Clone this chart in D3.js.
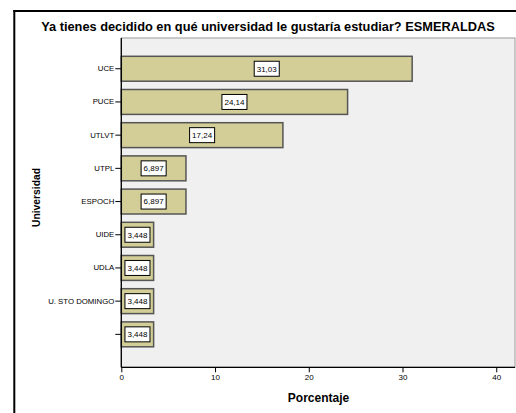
<!DOCTYPE html>
<html><head><meta charset="utf-8">
<script src="https://cdn.jsdelivr.net/npm/d3@7"></script>
<style>body{margin:0;background:#fff;}svg{display:block;font-family:"Liberation Sans",Arial,sans-serif;}</style>
</head><body>
<svg id="c" width="516" height="413"></svg>
<script>
const categories = ["UCE","PUCE","UTLVT","UTPL","ESPOCH","UIDE","UDLA","U. STO DOMINGO",""];
const values = [31.03,24.14,17.24,6.897,6.897,3.448,3.448,3.448,3.448];
const valueLabels = ["31,03","24,14","17,24","6,897","6,897","3,448","3,448","3,448","3,448"];
const xTicks = [0,10,20,30,40];
const title = "Ya tienes decidido en qué universidad le gustaría estudiar? ESMERALDAS";
const xTitle = "Porcentaje";
const yTitle = "Universidad";

const svg = d3.select("#c");
const P = {l:121.3, r:515, t:38, b:367.3};

// outer frame
svg.append("line").attr("x1",14.3).attr("x2",14.3).attr("y1",10).attr("y2",413).attr("stroke","#000").attr("stroke-width",2);
svg.append("line").attr("x1",13.3).attr("x2",516).attr("y1",11).attr("y2",11).attr("stroke","#000").attr("stroke-width",2);

// plot background
svg.append("rect").attr("x",P.l).attr("y",P.t).attr("width",P.r-P.l).attr("height",P.b-P.t)
  .attr("fill","#f0f0f0").attr("stroke","#9a9a9a").attr("stroke-width",1);

const x = d3.scaleLinear().domain([0,42]).range([P.l,P.r]);
const y = d3.scaleBand().domain(categories.map((d,i)=>i)).range([52.15,350.95]).paddingInner(0.25).paddingOuter(0.125);

const g = svg.append("g");
g.selectAll("rect.bar").data(values).join("rect").attr("class","bar")
  .attr("x",x(0)).attr("y",(d,i)=>y(i)).attr("width",d=>x(d)-x(0)).attr("height",y.bandwidth())
  .attr("fill","#d3ce97").attr("stroke","#555").attr("stroke-width",1.5);

// value labels
const lbl = g.selectAll("g.lbl").data(values).join("g").attr("class","lbl")
  .attr("transform",(d,i)=>`translate(${(x(0)+x(d))/2},${y(i)+y.bandwidth()/2})`);
lbl.each(function(d,i){
  const s = d3.select(this);
  const t = s.append("text").attr("text-anchor","middle").attr("dy","0.35em")
    .attr("font-size",8).attr("fill","#000").text(valueLabels[i]);
  const w = t.node().getComputedTextLength()+5;
  s.insert("rect","text").attr("x",-w/2).attr("y",-7.5).attr("width",w).attr("height",15)
    .attr("fill","#fff").attr("stroke","#000").attr("stroke-width",1);
});

// y axis
const ya = d3.axisLeft(y).tickSize(6).tickSizeOuter(0).tickFormat(i=>categories[i]);
const yg = svg.append("g").attr("transform",`translate(${P.l},0)`).call(ya);
yg.select(".domain").attr("d",`M0,${P.t}V${P.b}`).attr("stroke","#000").attr("stroke-width",1.3);
yg.selectAll(".tick line").attr("stroke","#000");
yg.selectAll(".tick text").attr("font-size",7.8).attr("font-family","Liberation Sans, Arial, sans-serif").attr("fill","#000").attr("x",-7);

// x axis
const xa = d3.axisBottom(x).tickValues(xTicks).tickSize(5).tickSizeOuter(0);
const xg = svg.append("g").attr("transform",`translate(0,${P.b})`).call(xa);
xg.select(".domain").attr("d",`M${P.l},0H${P.r}`).attr("stroke","#000").attr("stroke-width",1.3);
xg.selectAll(".tick line").attr("stroke","#000");
xg.selectAll(".tick text").attr("font-size",8).attr("font-family","Liberation Sans, Arial, sans-serif").attr("fill","#000").attr("y",7.5);

// titles
svg.append("text").attr("x",268).attr("y",30.5).attr("text-anchor","middle").attr("font-size",12.8).attr("font-weight","bold").text(title);
svg.append("text").attr("x",318.5).attr("y",401.5).attr("text-anchor","middle").attr("font-size",12).attr("font-weight","bold").text(xTitle);
svg.append("text").attr("transform","translate(39.5,197.5) rotate(-90)").attr("text-anchor","middle").attr("font-size",10.3).attr("font-weight","bold").text(yTitle);
</script>
</body></html>
